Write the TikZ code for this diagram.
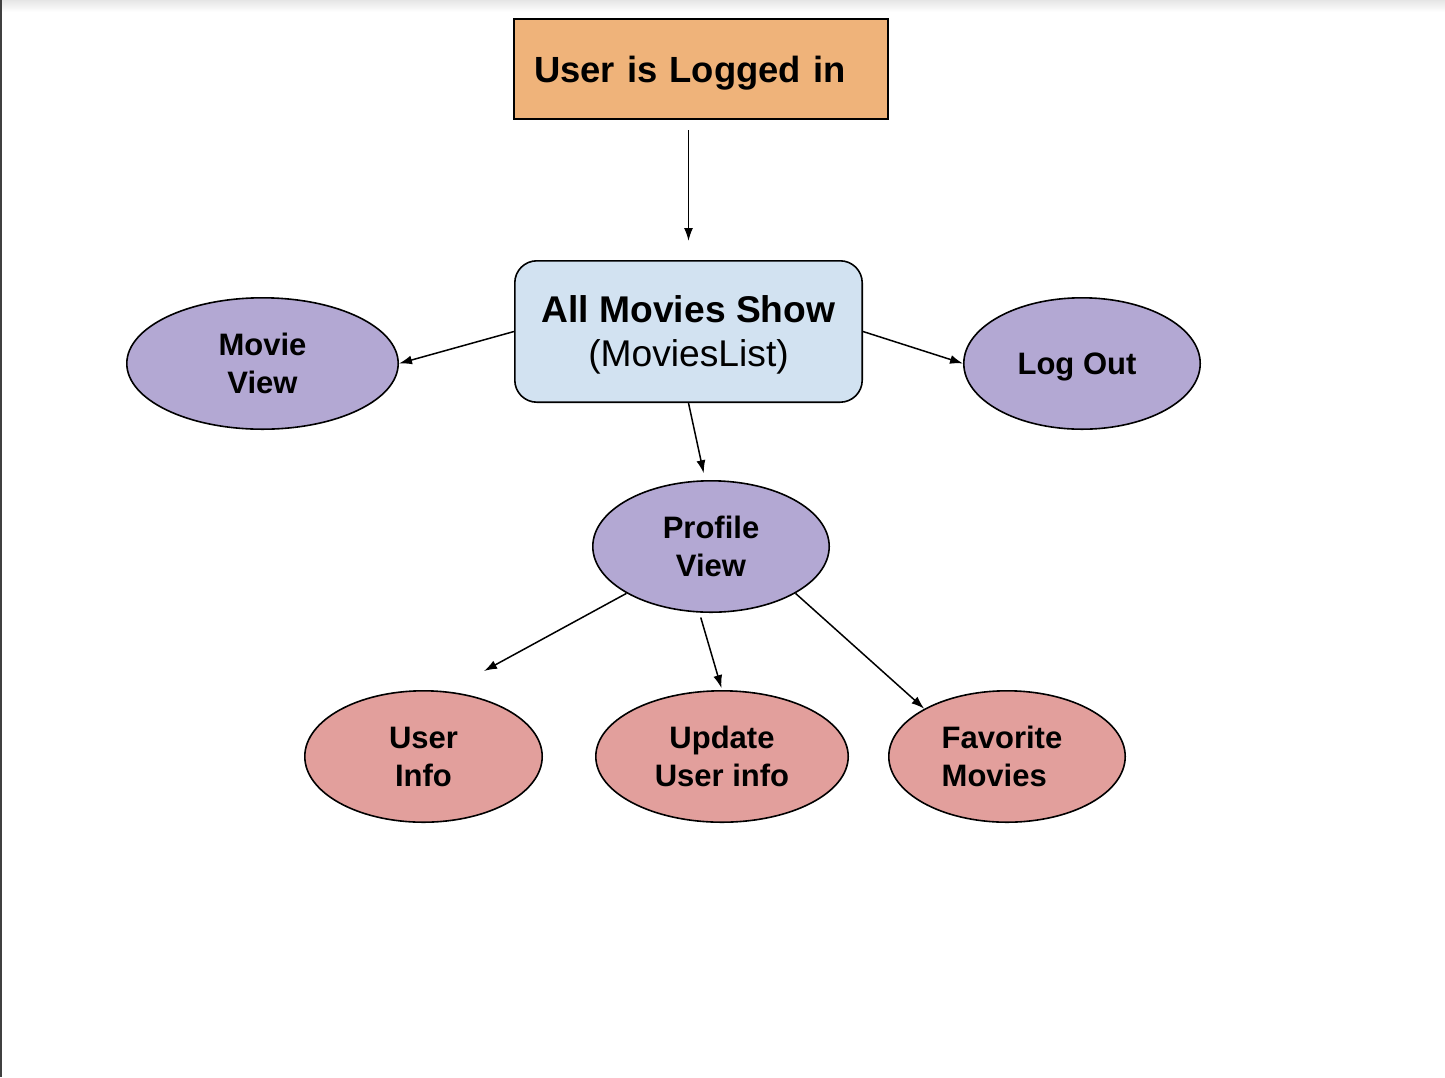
\documentclass[tikz,border=0pt]{standalone}
\usepackage{fontspec}
\setmainfont{Liberation Sans}
\usetikzlibrary{arrows.meta,positioning,calc,shapes.geometric}
\definecolor{loginfill}{HTML}{EFB37A}
\definecolor{listfill}{HTML}{D2E2F1}
\definecolor{viewfill}{HTML}{B3A8D3}
\definecolor{subfill}{HTML}{E29F9C}
\begin{document}
\begin{tikzpicture}[x=0.5pt,y=-0.5pt,>={Latex[length=6.5pt,width=4.5pt]},
 card/.style={draw,line width=0.8pt,inner sep=0pt,text depth=0pt,align=center,font=\fontsize{18.6}{22}\selectfont\bfseries},
 oval/.style={draw,ellipse,line width=0.8pt,inner sep=0pt,minimum width=118.2pt,minimum height=65.7pt,align=center,font=\fontsize{15.5}{19}\selectfont\bfseries},
 link/.style={->,line width=0.75pt}]
 \useasboundingbox (0,0) rectangle (1445,1077);
 \fill[black!75] (0,0) rectangle (2,1077);
 \shade[top color=black!10,bottom color=white] (2,0) rectangle (1445,12);
 \node[card,fill=loginfill,minimum height=50.2pt,text width=167pt,inner xsep=10pt,align=left,font=\fontsize{18.2}{22}\selectfont\bfseries] (login) at (701,69) {User is Logged in};
 \node[card,fill=listfill,rounded corners=11pt,minimum width=173.7pt,minimum height=70.7pt] (list) at (688.5,331.5) {All Movies Show\\[0pt]{\mdseries (MoviesList)}};
 \node[oval,fill=viewfill,minimum width=135.7pt] (movie) at (262.5,363.5) {Movie\\View};
 \node[oval,fill=viewfill,text depth=0pt] (logout) at (1082,363.5) {Log Out\hspace{5pt}};
 \node[oval,fill=viewfill] (profile) at (711,546.5) {Profile\\View};
 \node[oval,fill=subfill,minimum width=118.7pt] (userinfo) at (423.5,756.5) {User\\Info};
 \node[oval,fill=subfill,minimum width=126.2pt] (update) at (722,756.5) {Update\\User info};
 \node[oval,fill=subfill,align=left] (favs) at (1007,756.5) {Favorite\hspace*{5pt}\\Movies};
 \coordinate (uiend) at (484,671);
 \draw[link,shorten <=5pt,shorten >=9.5pt] (login.south -| list) -- (list.north);
 \draw[link] (list.west) -- (movie.east);
 \draw[link] (list.east) -- (logout.west);
 \draw[link,shorten >=3.5pt] (list.south) -- (profile.95);
 \draw[link] (profile.209.5) -- (uiend);
 \draw[link,shorten <=2.5pt,shorten >=1pt] (profile.260) -- (update.north);
 \draw[link] (profile.331) -- (favs.150.6);
\end{tikzpicture}
\end{document}
